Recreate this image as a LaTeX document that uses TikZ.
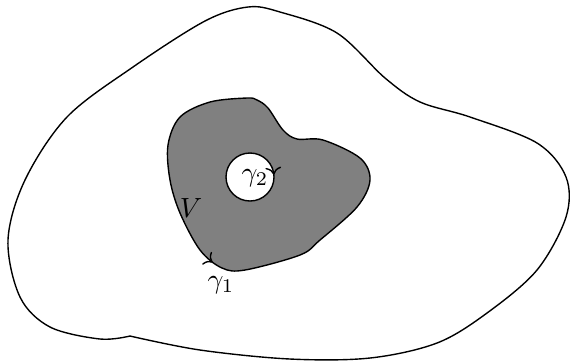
\documentclass[tikz,border=0pt]{standalone}
\usepackage{amsmath,amssymb}
\usepackage{tikz}
\usetikzlibrary{arrows.meta,decorations.markings}

\begin{document}
\begin{tikzpicture}[
    x=0.36pt, y=-0.36pt,
    boundary/.style={draw=black, line width=0.5pt},
    region/.style={boundary, fill=gray},
    hole/.style={boundary, fill=white},
    midarrow/.style={postaction={decorate, decoration={markings,
        mark=at position #1 with {\arrow{>}}}}},
    lbl/.style={inner sep=0pt}
]
\useasboundingbox (0,0) rectangle (570,360);

% outer domain (corner at the lower left)
\draw[boundary] plot[smooth, tension=0.55] coordinates {
    (130,336) (200,350) (290,359) (370,358) (437,343) (487,313)
    (537,270) (566,217) (566,177) (537,143) (470,117) (420,102)
    (385,78) (337,33) (280,12) (248,7) (205,21) (133,67) (67,117)
    (25,180) (8,240) (20,297) (50,327) (100,339) (130,336)};

% shaded set V
\draw[region, midarrow=0.33] plot[smooth cycle, tension=0.55] coordinates {
    (247,98) (210,102) (180,117) (168,145) (170,180) (180,213)
    (200,250) (222,268) (245,270) (300,255) (320,240) (357,207)
    (370,180) (360,158) (323,140) (297,139) (283,130) (268,108)
    (257,100)};

% hole
\coordinate (c) at (250,177);
\draw[hole, midarrow=0.985] (c) circle[radius=24];

\node[lbl] (g2) at (255,178) {$\gamma_2$};
\node[lbl] (V) at (191,208) {$V$};
\node[lbl] (g1) at (221,285) {$\gamma_1$};
\end{tikzpicture}
\end{document}
